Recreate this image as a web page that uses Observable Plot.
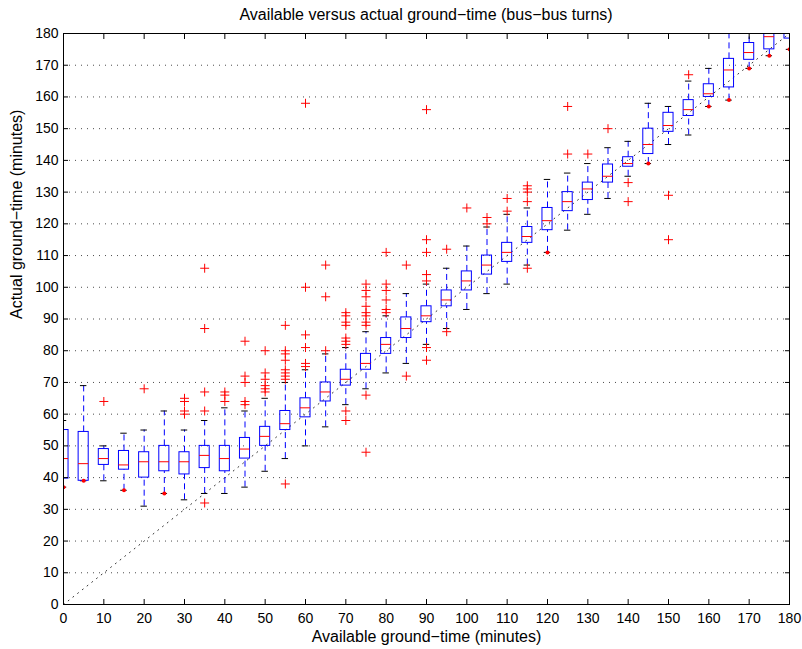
<!DOCTYPE html>
<html>
<head>
<meta charset="utf-8">
<script src="https://cdn.jsdelivr.net/npm/d3@7"></script>
<script src="https://cdn.jsdelivr.net/npm/@observablehq/plot@0.6"></script>
<style>
  html, body { margin: 0; padding: 0; background: #fff; }
  #wrap { width: 802px; height: 649px; font-family: "Liberation Sans", Arial, Helvetica, sans-serif; }
  #title { box-sizing: border-box; height: 23px; padding-top: 7px; padding-left: 63px; padding-right: 13px;
           text-align: center; font-size: 16px; line-height: 16px; color: #000; white-space: nowrap; }
</style>
</head>
<body>
<div id="wrap">
  <div id="title">Available versus actual ground−time (bus−bus turns)</div>
  <div id="chart"></div>
</div>
<script>
// ---- data ----
const positions = [0,5,10,15,20,25,30,35,40,45,50,55,60,65,70,75,80,85,90,95,100,105,110,115,120,125,130,135,140,145,150,155,160,165,170,175,180];
const whiskerLow  = [37,39,39,36,31,35,33,35,35,37,42,46,50,56,63,68,73,76,82,87,93,98,101,107,111,118,123,128,135,139,145,148,157,159,169,173,175];
const quart1      = [39.7,39,44,42.5,40,42,41,43,42,46,50,55,59,64,69,74,79,84,89,94,99,104,108,114,118,124,127.5,133,138,142,149,154,160,163,171.7,175,178.4];
const medians     = [46,44.4,46,44,45,45,45,47,46,49,53,57,62,67,71,76,82,87,91,96,102,107,111,116,121,127,131,135,139,145,151,156,161,168.5,174,179,182];
const quart3      = [55,54.4,49,48.4,48,50,48,50,50,52.5,56,61,65,70,74,79,84,90.5,94,99,105,110,114,119,125,130,133,138.7,141,150,155,159,164,172,177,182,186];
const whiskerHigh = [58,69,50,54,55,61,55,58,62,61,65,70,74,79,81,86,91,98,101,106,113,119,123,125,134,136,139,144,146,158,157,165,169,185,185,188,190];

// outliers drawn as red "+"
const outlierPos = [10,20,30,30,30,30,35,35,35,35,35,40,40,40,45,45,45,45,45,
  50,50,50,50,50,50,55,55,55,55,55,55,55,55,55,60,60,60,60,60,60,65,65,65,
  70,70,70,70,70,70,70,70,70,75,75,75,75,75,75,75,75,75,75,80,80,80,80,80,80,
  85,85,90,90,90,90,90,90,90,95,95,100,105,105,110,110,115,115,115,115,115,
  125,125,130,135,140,140,150,150,155];
const outlierVal = [64,68,65,64,61,60,106,87,67,61,32,67,66,64,83,72,70,64,63,
  80,73,71,69,68,67,88,80,79,77,74,73,72,71,38,158,100,85,81,76,75,107,97,80,
  92,91,89,88,84,83,82,61,58,101,99,97,94,92,91,89,88,66,48,111,101,99,96,93,92,
  107,72,156,115,111,104,102,81,77,112,86,125,122,120,128,124,132,131,130,127,106,
  157,142,142,150,133,127,129,115,167];

// outliers sitting on a whisker end (drawn as small red blobs)
const blobPos = [0,5,15,25,120,145,160,165,170,175,180];
const blobVal = [37,39,36,35,111,139,157,159,169,173,175];

const xTicks = [0,10,20,30,40,50,60,70,80,90,100,110,120,130,140,150,160,170,180];
const yTicks = [0,10,20,30,40,50,60,70,80,90,100,110,120,130,140,150,160,170,180];
const innerTicks = [10,20,30,40,50,60,70,80,90,100,110,120,130,140,150,160,170];
const diagX = [0,180];
const diagY = [0,180];

// ---- tables built from the arrays ----
const boxes = positions.map((p, i) => ({p, lo: whiskerLow[i], q1: quart1[i], med: medians[i], q3: quart3[i], hi: whiskerHigh[i]}));
const outliers = outlierPos.map((p, i) => ({p, v: outlierVal[i]}));
const blobs = blobPos.map((p, i) => ({p, v: blobVal[i]}));
const diag = diagX.map((x, i) => ({x, y: diagY[i]}));
const boxHalf = 1.25, capHalf = 0.8;

const chart = Plot.plot({
  width: 802,
  height: 626,
  marginTop: 10,
  marginBottom: 45,
  marginLeft: 63,
  marginRight: 13,
  style: {fontFamily: "'Liberation Sans', Arial, Helvetica, sans-serif", fontSize: "14px", color: "#000", background: "#fff"},
  x: {domain: [0, 180]},
  y: {domain: [0, 180]},
  marks: [
    Plot.ruleY(innerTicks, {y: d => d, stroke: "#000", strokeOpacity: 0.7, strokeDasharray: "1,5"}),
    Plot.line(diag, {x: "x", y: "y", stroke: "#333", strokeWidth: 1, strokeDasharray: "1,5"}),
    Plot.ruleX(boxes, {x: "p", y1: "q3", y2: "hi", stroke: "#0000ff", strokeDasharray: "6,4", clip: true}),
    Plot.ruleX(boxes, {x: "p", y1: "lo", y2: "q1", stroke: "#0000ff", strokeDasharray: "6,4", clip: true}),
    Plot.ruleY(boxes, {y: "hi", x1: d => d.p - capHalf, x2: d => d.p + capHalf, stroke: "#000", clip: true}),
    Plot.ruleY(boxes, {y: "lo", x1: d => d.p - capHalf, x2: d => d.p + capHalf, stroke: "#000", clip: true}),
    Plot.rect(boxes, {x1: d => d.p - boxHalf, x2: d => d.p + boxHalf, y1: "q1", y2: "q3", fill: "none", stroke: "#0000ff", clip: true}),
    Plot.ruleY(boxes, {y: "med", x1: d => d.p - boxHalf, x2: d => d.p + boxHalf, stroke: "#ff0000", clip: true}),
    Plot.dot(outliers, {x: "p", y: "v", symbol: "plus", r: 3, stroke: "#ff0000", strokeWidth: 1, clip: true}),
    Plot.dot(blobs, {x: "p", y: "v", r: 2, fill: "#ff0000", stroke: "none", clip: true}),
    Plot.frame({stroke: "#000"}),
    Plot.axisX({ticks: xTicks, tickSize: 0, tickPadding: 9, fontSize: 14, label: null}),
    Plot.axisX({ticks: innerTicks, anchor: "bottom", tickSize: 5, dy: -5, tickFormat: () => "", label: null}),
    Plot.axisX({ticks: innerTicks, anchor: "top", tickSize: 5, dy: 5, tickFormat: () => "", label: null}),
    Plot.axisY({ticks: yTicks, tickSize: 0, tickPadding: 5, fontSize: 14, label: null}),
    Plot.axisY({ticks: innerTicks, anchor: "left", tickSize: 5, dx: 5, tickFormat: () => "", label: null}),
    Plot.axisY({ticks: innerTicks, anchor: "right", tickSize: 5, dx: -5, tickFormat: () => "", label: null}),
    Plot.text(["Available ground−time (minutes)"], {frameAnchor: "bottom", dy: 32, fontSize: 16, lineAnchor: "middle", text: d => d}),
    Plot.text(["Actual ground−time (minutes)"], {frameAnchor: "left", dx: -47, rotate: -90, fontSize: 16, lineAnchor: "middle", text: d => d})
  ]
});
document.getElementById("chart").appendChild(chart);
</script>
</body>
</html>
